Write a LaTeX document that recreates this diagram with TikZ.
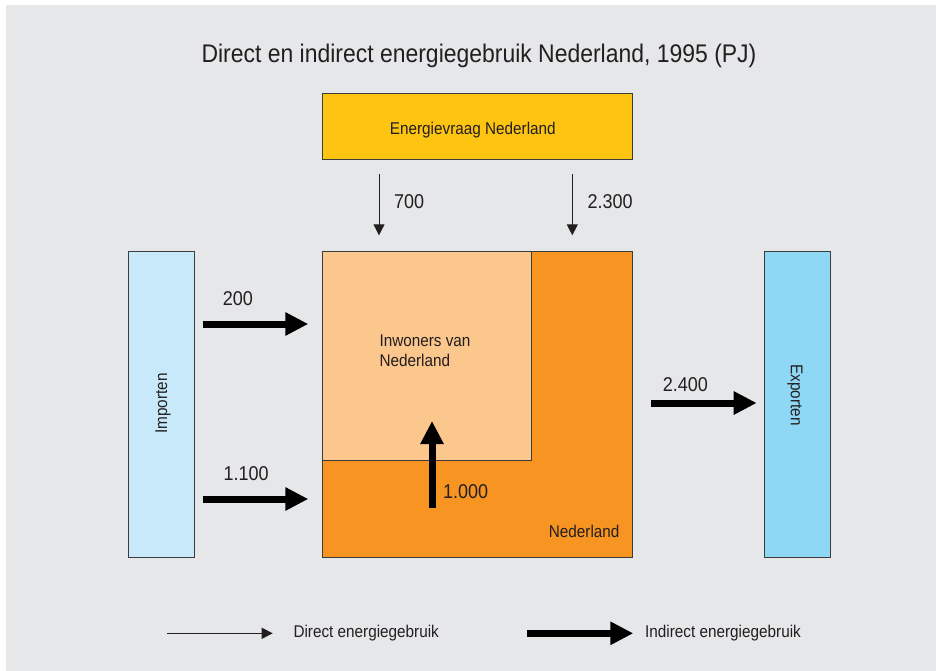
\documentclass[tikz,border=0pt]{standalone}
\usepackage{fontspec}
\setmainfont{Liberation Sans}[FakeStretch=0.9]
\usetikzlibrary{arrows.meta}
\definecolor{panel}{RGB}{230,231,233}
\definecolor{inkgray}{RGB}{35,31,32}
\definecolor{edgegray}{RGB}{60,60,60}
\definecolor{demandyellow}{RGB}{253,196,18}
\definecolor{nlorange}{RGB}{247,148,34}
\definecolor{peoplepeach}{RGB}{251,199,140}
\definecolor{importblue}{RGB}{200,233,249}
\definecolor{exportblue}{RGB}{142,216,245}
\tikzset{
  panelbox/.style={draw=edgegray, line width=0.9pt, inner sep=0pt, outer sep=0pt},
  txt/.style={text=inkgray, inner sep=0pt, font=\fontsize{17}{20}\selectfont},
  numtxt/.style={text=inkgray, inner sep=0pt, font=\fontsize{20}{24}\selectfont},
  direct/.style={draw=inkgray, line width=1pt, -{Triangle[length=11pt,width=11pt]}},
  indirect/.style={draw=black, line width=7pt, -{Triangle[length=23pt,width=22pt]}}
}
\begin{document}
\begin{tikzpicture}[x=1pt,y=-1pt]
  % canvas and grey panel
  \useasboundingbox (0,0) rectangle (936,671);
  \fill[white] (0,0) rectangle (936,671);
  \fill[panel] (6,5) rectangle (936,671);

  % title
  \node[txt, font=\fontsize{25.5}{30}\selectfont, anchor=base] (title) at (479,63)
    {Direct en indirect energiegebruik Nederland, 1995 (PJ)};

  % boxes
  \node[panelbox, fill=demandyellow, minimum width=310pt, minimum height=65.7pt] (ev) at (477.7,126.2) {};
  \node[txt, anchor=base] (evtext) at (472.8,135) {Energievraag Nederland};

  \node[panelbox, fill=nlorange, minimum width=310pt, minimum height=305.6pt] (nl) at (477.7,404.5) {};
  \node[panelbox, fill=peoplepeach, minimum width=209pt, minimum height=209pt] (inw) at (427.2,356.2) {};
  \node[txt, anchor=base west] (inw1) at (379.3,346) {Inwoners van};
  \node[txt, anchor=base west] (inw2) at (379.3,366.7) {Nederland};
  \node[txt, anchor=base west] (nltext) at (548.7,537.7) {Nederland};

  \node[panelbox, fill=importblue, minimum width=65.7pt, minimum height=305.6pt] (imp) at (161.2,404.5) {};
  \node[txt, rotate=90] (imptext) at (163,403.5) {Importen};
  \node[panelbox, fill=exportblue, minimum width=65.7pt, minimum height=305.6pt] (exp) at (797.2,404.5) {};
  \node[txt, rotate=-90] (exptext) at (795,395) {Exporten};

  % connector end points
  \coordinate (d1s) at (379,174);   \coordinate (d1e) at (379,235.3);
  \coordinate (d2s) at (572.3,174); \coordinate (d2e) at (572.3,235.3);
  \coordinate (i1s) at (202.7,324); \coordinate (i1e) at (308.3,324);
  \coordinate (i2s) at (202.7,499); \coordinate (i2e) at (308.3,499);
  \coordinate (i3s) at (651,403);   \coordinate (i3e) at (756.7,403);
  \coordinate (i4s) at (432,507.7); \coordinate (i4e) at (432,421);

  % direct use
  \draw[direct] (d1s) -- (d1e);
  \draw[direct] (d2s) -- (d2e);
  \node[numtxt, anchor=base west] (n700) at (394,208.3) {700};
  \node[numtxt, anchor=base west] (n2300) at (587.3,208.3) {2.300};

  % indirect use
  \draw[indirect] (i1s) -- (i1e);
  \draw[indirect] (i2s) -- (i2e);
  \draw[indirect] (i3s) -- (i3e);
  \draw[indirect] (i4s) -- (i4e);
  \node[numtxt, anchor=base west] (n200) at (222.7,305.7) {200};
  \node[numtxt, anchor=base west] (n1100) at (223.3,480) {1.100};
  \node[numtxt, anchor=base west] (n2400) at (662.7,391.7) {2.400};
  \node[numtxt, anchor=base west] (n1000) at (443,498) {1.000};

  % legend
  \coordinate (l1s) at (167.3,633.3); \coordinate (l1e) at (272.7,633.3);
  \coordinate (l2s) at (526.7,633.3); \coordinate (l2e) at (633.3,633.3);
  \draw[direct, line width=1.3pt] (l1s) -- (l1e);
  \draw[indirect] (l2s) -- (l2e);
  \node[txt, anchor=base west] (leg1) at (293.3,637.3) {Direct energiegebruik};
  \node[txt, anchor=base west] (leg2) at (645,637.3) {Indirect energiegebruik};
\end{tikzpicture}
\end{document}
